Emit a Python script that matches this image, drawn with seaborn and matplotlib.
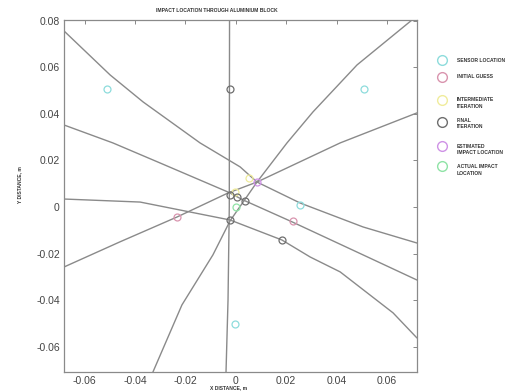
import numpy as np
import pandas as pd
import matplotlib
matplotlib.use("Agg")
import matplotlib.pyplot as plt
from matplotlib.lines import Line2D
import seaborn as sns

sns.set_style("white")
plt.rcParams['font.family'] = ['Liberation Sans', 'DejaVu Sans']

# ---- data ----
line_a_x = [-0.0025, -0.0026, -0.0031, -0.0039]
line_a_y = [0.0803, 0.0, -0.0399, -0.0709]
line_b_x = [-0.0682, -0.0499, -0.0368, -0.0142, 0.0017, 0.0084, 0.0255, 0.0505, 0.0719]
line_b_y = [0.0756, 0.0567, 0.0451, 0.0275, 0.0172, 0.0107, 0.0017, -0.0086, -0.0155]
line_c_x = [0.0699, 0.0481, 0.0306, 0.0203, 0.0084, -0.0023, -0.0091, -0.0214, -0.0329]
line_c_y = [0.0803, 0.0610, 0.0408, 0.0275, 0.0107, -0.0060, -0.0206, -0.0421, -0.0709]
line_d_x = [-0.0682, -0.0488, -0.0301, -0.0031, 0.0029, 0.0223, 0.0505, 0.0719]
line_d_y = [0.0352, 0.0275, 0.0189, 0.0064, 0.0030, -0.0064, -0.0206, -0.0314]
line_e_x = [-0.0682, -0.0460, -0.0233, -0.0031, 0.0084, 0.0414, 0.0719]
line_e_y = [-0.0258, -0.0150, -0.0043, 0.0060, 0.0107, 0.0275, 0.0404]
line_f_x = [-0.0682, -0.0380, -0.0023, 0.0183, 0.0295, 0.0414, 0.0624, 0.0719]
line_f_y = [0.0034, 0.0021, -0.0056, -0.0142, -0.0215, -0.0279, -0.0455, -0.0563]

sensor_x = [-0.0510, 0.0510, -0.0003, 0.0255]
sensor_y = [0.0505, 0.0505, -0.0504, 0.0008]
initial_x = [-0.0235, 0.0225]
initial_y = [-0.0042, -0.0060]
intermediate_x = [-0.0003, 0.0054]
intermediate_y = [0.0066, 0.0126]
final_x = [-0.0023, 0.0183, -0.0023, -0.0023, 0.0006, 0.0037]
final_y = [0.0505, -0.0142, -0.0056, 0.0052, 0.0042, 0.0027]
estimated_x = [0.0085]
estimated_y = [0.0109]
actual_x = [0.0001]
actual_y = [0.0001]

xtick_vals = [-0.06, -0.04, -0.02, 0, 0.02, 0.04, 0.06]
xtick_labels = ["-0.06", "-0.04", "-0.02", "0", "0.02", "0.04", "0.06"]
ytick_vals = [-0.06, -0.04, -0.02, 0, 0.02, 0.04, 0.06, 0.08]
ytick_labels = ["-0.06", "-0.04", "-0.02", "0", "0.02", "0.04", "0.06", "0.08"]

legend_labels = ["SENSOR LOCATION", "INITIAL GUESS", "INTERMEDIATE\nITERATION",
                 "FINAL\nITERATION", "ESTIMATED\nIMPACT LOCATION", "ACTUAL IMPACT\nLOCATION"]
marker_colors = ["#8ddcdc", "#d994ae", "#f0ec9c", "#6e6e6e", "#cf92e6", "#8fe3a6"]

# ---- build line table ----
lines = {"A": (line_a_x, line_a_y), "B": (line_b_x, line_b_y), "C": (line_c_x, line_c_y),
         "D": (line_d_x, line_d_y), "E": (line_e_x, line_e_y), "F": (line_f_x, line_f_y)}
rows = []
for name, (xs, ys) in lines.items():
    for i, (xv, yv) in enumerate(zip(xs, ys)):
        rows.append({"line": name, "order": i, "x": xv, "y": yv})
df_lines = pd.DataFrame(rows)

fig = plt.figure(figsize=(5.07, 3.92), dpi=100)
ax = fig.add_axes([64 / 507, 1 - 372 / 392, (417 - 64) / 507, (372 - 20) / 392])

sns.lineplot(data=df_lines, x="x", y="y", units="line", estimator=None, sort=False,
             color="#8a8a8a", linewidth=1.0, ax=ax)

marker_sets = [(sensor_x, sensor_y), (initial_x, initial_y), (intermediate_x, intermediate_y),
               (final_x, final_y), (estimated_x, estimated_y), (actual_x, actual_y)]
for (xs, ys), col in zip(marker_sets, marker_colors):
    sns.lineplot(x=xs, y=ys, estimator=None, sort=False, marker="o", linestyle="none",
                 markersize=5, markerfacecolor="none", markeredgecolor=col,
                 markeredgewidth=0.9, color=col, ax=ax)

ax.set_xlim(-0.0682, 0.0719)
ax.set_ylim(-0.0709, 0.0803)
ax.set_xticks(xtick_vals)
ax.set_xticklabels(xtick_labels)
ax.set_yticks(ytick_vals)
ax.set_yticklabels(ytick_labels)
ax.tick_params(direction="in", length=3, width=0.7, color="#888888",
               labelsize=7.5, labelcolor="#444444", top=True, right=True, pad=3)
for sp in ax.spines.values():
    sp.set_color("#8a8a8a")
    sp.set_linewidth(0.9)
ax.set_xlabel("")
ax.set_ylabel("")

fig.text(216.5 / 507, 1 - 10 / 392, "IMPACT LOCATION THROUGH ALUMINIUM BLOCK",
         ha="center", va="center", fontsize=3.6, fontweight="bold", color="#333333")
fig.text(228.7 / 507, 1 - 387.5 / 392, "X DISTANCE, m",
         ha="center", va="center", fontsize=3.6, fontweight="bold", color="#333333")
fig.text(20 / 507, 1 - 185 / 392, "Y DISTANCE, m", rotation=90,
         ha="center", va="center", fontsize=3.6, fontweight="bold", color="#333333")

# legend (manual layout)
leg_marker_y = [60, 77, 100, 122, 146, 166]
leg_text_y = [60, 77, 103, 123.5, 149.5, 169.5]
for lab, col, my, ty in zip(legend_labels, marker_colors, leg_marker_y, leg_text_y):
    fig.add_artist(Line2D([442 / 507], [1 - my / 392], marker="o", markersize=7,
                          markerfacecolor="none", markeredgecolor=col, markeredgewidth=1.0,
                          linestyle="none", transform=fig.transFigure))
    fig.text(457 / 507, 1 - ty / 392, lab, ha="left", va="center", fontsize=3.6,
             fontweight="bold", color="#333333", linespacing=1.5)

fig.savefig("out.png", dpi=100)
